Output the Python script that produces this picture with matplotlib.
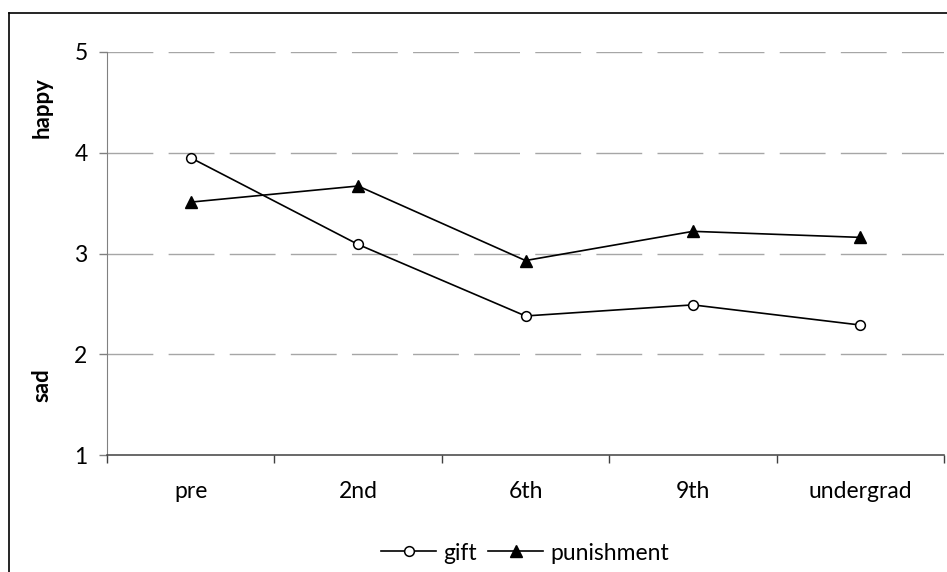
import matplotlib
matplotlib.use("Agg")
import matplotlib.pyplot as plt
from matplotlib.lines import Line2D

categories = ["pre", "2nd", "6th", "9th", "undergrad"]
gift = [3.95, 3.09, 2.38, 2.49, 2.29]
punishment = [3.51, 3.67, 2.93, 3.22, 3.16]
yticks = [1, 2, 3, 4, 5]

plt.rcParams['font.family'] = ['Lato', 'DejaVu Sans']

W, H = 947, 572
fig = plt.figure(figsize=(W / 100, H / 100), dpi=100)
ax = fig.add_axes([107 / W, 1 - 455 / H, (944 - 107) / W, (455 - 52) / H])

x = list(range(len(categories)))
ax.plot(x, gift, color="black", lw=1.2, marker="o", ms=7, mfc="white",
        mec="black", mew=1.1, label="gift", zorder=3)
ax.plot(x, punishment, color="black", lw=1.2, marker="^", ms=9, mfc="black",
        mec="black", label="punishment", zorder=3)

ax.set_xlim(-0.5, len(categories) - 0.5)
ax.set_ylim(1, 5)
ax.set_yticks(yticks)
ax.set_yticklabels([str(v) for v in yticks], fontsize=16.5)
ax.set_xticks(x)
ax.set_xticklabels(categories, fontsize=16.5)
ax.tick_params(axis="x", length=0, pad=19)
ax.set_xticks([i + 0.5 for i in range(-1, len(categories))], minor=True)
ax.tick_params(axis="x", which="minor", length=6, color="#404040", width=1)
ax.tick_params(axis="y", length=6, color="#808080", width=1, pad=8)

for v in yticks[1:]:
    ax.axhline(v, color="#a6a6a6", lw=1, dashes=(33, 11), zorder=1)

for s in ["top", "right"]:
    ax.spines[s].set_visible(False)
ax.spines["left"].set_color("#808080")
ax.spines["left"].set_bounds(1, 5)
ax.spines["bottom"].set_color("#404040")
ax.spines["bottom"].set_linewidth(1.1)

fig.text(42 / W, 1 - 108 / H, "happy", rotation=90, fontsize=16,
         fontweight="bold", ha="center", va="center")
fig.text(42 / W, 1 - 385 / H, "sad", rotation=90, fontsize=16,
         fontweight="bold", ha="center", va="center")

leg = fig.legend(loc="center", bbox_to_anchor=(525 / W, 1 - 553 / H), ncol=2,
                 frameon=False, fontsize=16.5, handlelength=2.4,
                 handletextpad=0.3, columnspacing=0.5)

# outer chart border (extends beyond the image on right/bottom)
fig.add_artist(Line2D([8.5 / W, 8.5 / W], [1 - 12.5 / H, -0.05], color="black",
                      lw=1.2, transform=fig.transFigure))
fig.add_artist(Line2D([8.5 / W, 1.05], [1 - 12.5 / H, 1 - 12.5 / H], color="black",
                      lw=1.2, transform=fig.transFigure))

fig.savefig("out.png", dpi=100)
